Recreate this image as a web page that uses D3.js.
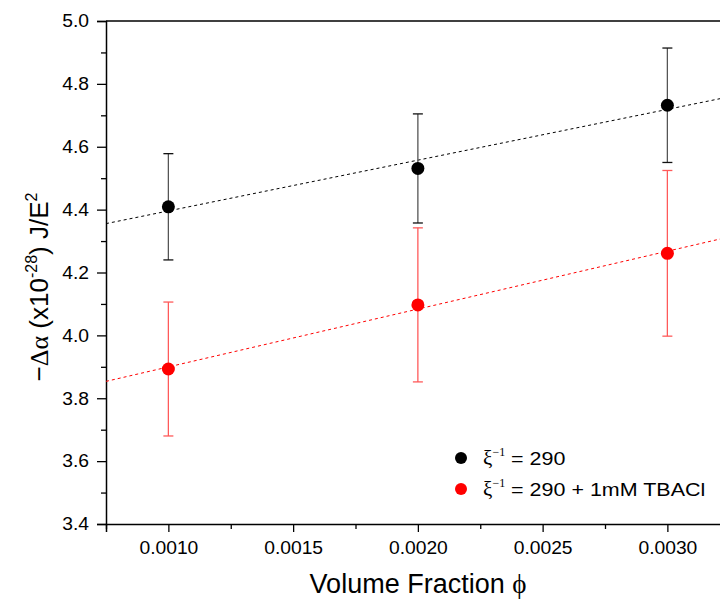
<!DOCTYPE html>
<html>
<head>
<meta charset="utf-8">
<script src="https://cdn.jsdelivr.net/npm/d3@7/dist/d3.min.js"></script>
<style>
  html, body { margin: 0; padding: 0; background: #fff; }
  svg { display: block; }
  text { font-family: "Liberation Sans", Arial, sans-serif; fill: #000; }
  .greek { font-family: "Liberation Serif", "Times New Roman", serif; }
</style>
</head>
<body>
<svg id="chart" width="720" height="603"></svg>
<script>
// ---- data ----
const phi = [0.0010, 0.0020, 0.0030];
const blackVals = [4.409, 4.531, 4.732];
const blackErr = [0.169, 0.1735, 0.182];
const redVals = [3.893, 4.097, 4.261];
const redErr = [0.213, 0.245, 0.2635];
const xTicks = [0.0010, 0.0015, 0.0020, 0.0025, 0.0030];
const xTickLabels = ["0.0010", "0.0015", "0.0020", "0.0025", "0.0030"];
const yTicks = [3.4, 3.6, 3.8, 4.0, 4.2, 4.4, 4.6, 4.8, 5.0];
const legendLabels = ["= 290", "= 290 + 1mM TBACl"];

const svg = d3.select("#chart");
const x = d3.scaleLinear().domain([0.00075, 0.00325]).range([106, 729.75]);
const y = d3.scaleLinear().domain([3.4, 5.0]).range([524, 21]);

function stretch(sel, k) {
  sel.each(function() {
    const w = this.getComputedTextLength();
    d3.select(this).attr("textLength", w * k).attr("lengthAdjust", "spacingAndGlyphs");
  });
}

// linear least-squares fit
function fit(xs, ys) {
  const n = xs.length, mx = d3.mean(xs), my = d3.mean(ys);
  let sxy = 0, sxx = 0;
  for (let i = 0; i < n; i++) { sxy += (xs[i]-mx)*(ys[i]-my); sxx += (xs[i]-mx)**2; }
  const b = sxy / sxx; return v => my + b * (v - mx);
}

// axes
const gx = svg.append("g").attr("transform", "translate(0,524)");
gx.call(d3.axisBottom(x).tickValues(xTicks).tickFormat((d,i) => xTickLabels[i]).tickSize(8).tickPadding(9));
const gxm = svg.append("g").attr("transform", "translate(0,524)");
gxm.call(d3.axisBottom(x).tickValues(d3.range(0.00075, 0.00326, 0.0005)).tickFormat("").tickSize(5));
gxm.select(".domain").remove();

const gy = svg.append("g").attr("transform", "translate(106,0)");
gy.call(d3.axisLeft(y).tickValues(yTicks).tickFormat(d3.format(".1f")).tickSize(9).tickPadding(8));
const gym = svg.append("g").attr("transform", "translate(106,0)");
gym.call(d3.axisLeft(y).tickValues(d3.range(3.5, 5.0, 0.2)).tickFormat("").tickSize(5));
gym.select(".domain").remove();

svg.selectAll(".domain").attr("stroke", "#000").attr("stroke-width", 1.5);
svg.selectAll(".tick line").attr("stroke", "#000").attr("stroke-width", 1.3);
svg.selectAll(".tick text").style("font-size", "18px").style("font-family", "'Liberation Sans', Arial, sans-serif").attr("fill", "#000");
stretch(svg.selectAll(".tick text"), 1.07);

// top border
svg.append("line").attr("x1", 106).attr("x2", 720).attr("y1", y(5.0)).attr("y2", y(5.0))
  .attr("stroke", "#000").attr("stroke-width", 1.5);

// fit lines
const series = [
  {vals: blackVals, err: blackErr, color: "#000", barColor: "#555", capColor: "#111"},
  {vals: redVals, err: redErr, color: "#ff0000", barColor: "#ff5a5a", capColor: "#ff5a5a"}
];
series.forEach(s => {
  const f = fit(phi, s.vals);
  svg.append("line")
    .attr("x1", x(0.00075)).attr("y1", y(f(0.00075)))
    .attr("x2", x(0.00325)).attr("y2", y(f(0.00325)))
    .attr("stroke", s.color).attr("stroke-width", 1).attr("stroke-dasharray", "3,3");
});

// error bars and points
series.forEach(s => {
  const g = svg.append("g");
  phi.forEach((p, i) => {
    const cx = x(p), top = y(s.vals[i] + s.err[i]), bot = y(s.vals[i] - s.err[i]);
    g.append("line").attr("x1", cx).attr("x2", cx).attr("y1", top).attr("y2", bot)
      .attr("stroke", s.barColor).attr("stroke-width", 1.3);
    [top, bot].forEach(yy => g.append("line").attr("x1", cx - 5).attr("x2", cx + 5)
      .attr("y1", yy).attr("y2", yy).attr("stroke", s.capColor).attr("stroke-width", 1.3));
    g.append("circle").attr("cx", cx).attr("cy", y(s.vals[i])).attr("r", 6.5).attr("fill", s.color);
  });
});

// legend
series.forEach((s, i) => {
  const ly = 458 + i * 31;
  svg.append("circle").attr("cx", 461).attr("cy", ly).attr("r", 6).attr("fill", s.color);
  const t = svg.append("text").attr("x", 483).attr("y", ly + 7).style("font-size", "19px");
  t.append("tspan").attr("class", "greek").style("font-size", "21px").text("ξ");
  t.append("tspan").attr("class", "greek").attr("dy", -9).style("font-size", "12px").text("−1");
  const tt = t.append("tspan").attr("dy", 9).text(" " + legendLabels[i]);
  stretch(tt, 1.13);
});

// x title
const xt = svg.append("text").attr("x", 418).attr("y", 593).attr("text-anchor", "middle").style("font-size", "27px");
xt.append("tspan").text("Volume Fraction ");
xt.append("tspan").attr("class", "greek").style("font-size", "27px").text("ϕ");

// y title
const yt = svg.append("text").attr("transform", "translate(48,287) rotate(-90)").attr("text-anchor", "middle").style("font-size", "26px");
yt.append("tspan").text("−");
yt.append("tspan").attr("class", "greek").text("Δα");
yt.append("tspan").text(" (x10");
yt.append("tspan").attr("dy", -11).style("font-size", "16px").text("-28");
yt.append("tspan").attr("dy", 11).text(") J/E");
yt.append("tspan").attr("dy", -11).style("font-size", "16px").text("2");
</script>
</body>
</html>
